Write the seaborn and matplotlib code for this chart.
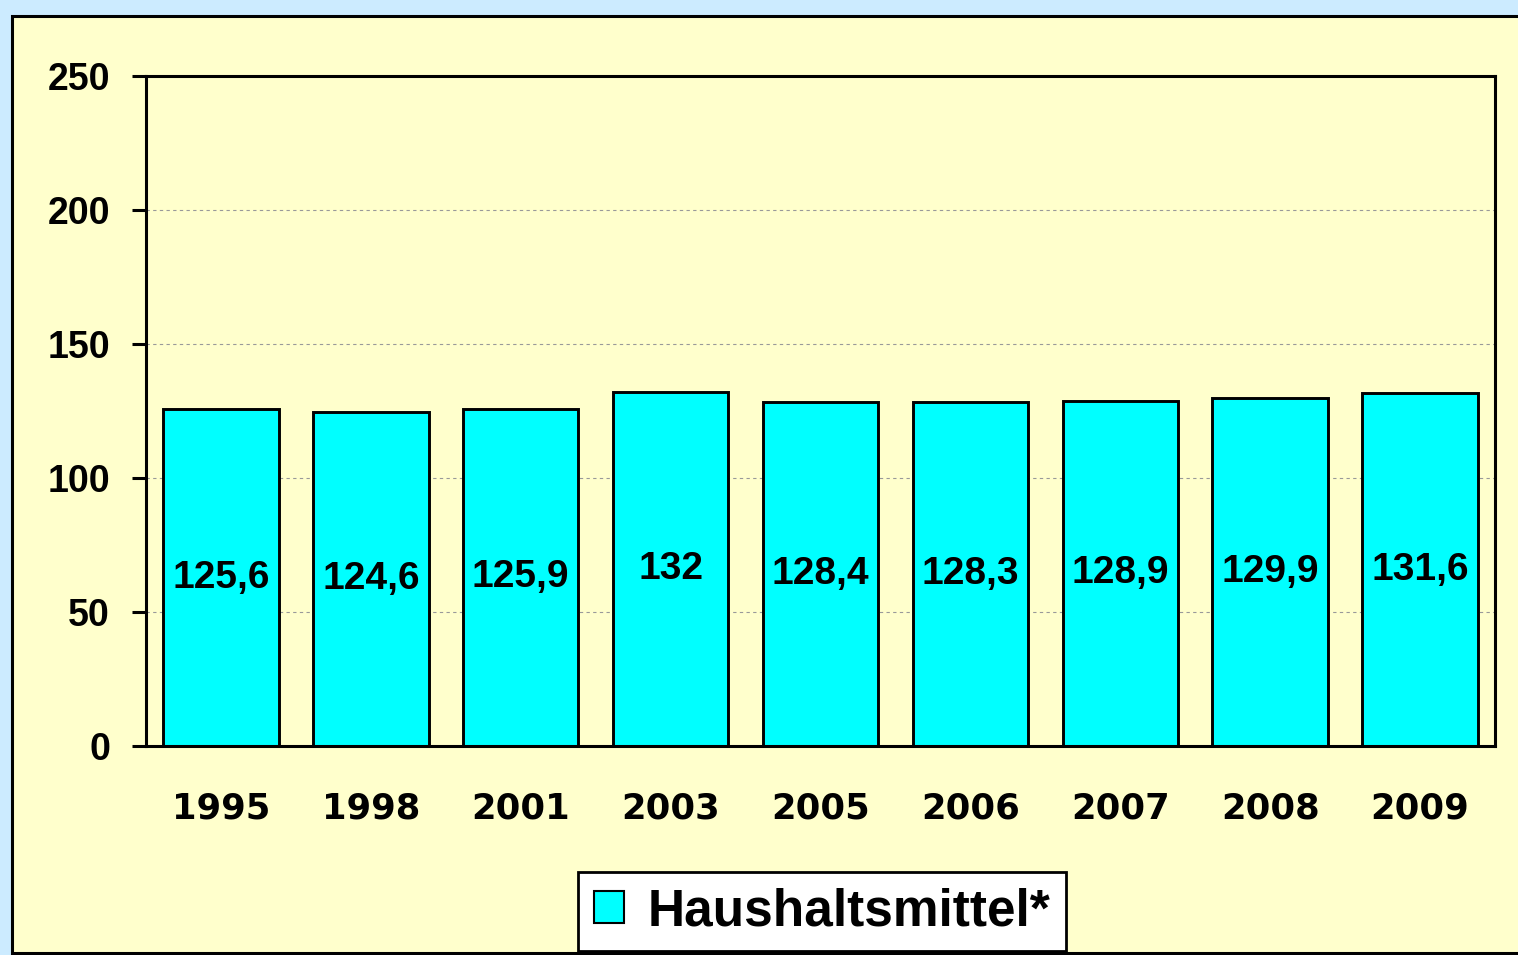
import matplotlib
matplotlib.use("Agg")
import matplotlib.pyplot as plt
from matplotlib.patches import Rectangle
import pandas as pd
import seaborn as sns

years = ["1995", "1998", "2001", "2003", "2005", "2006", "2007", "2008", "2009"]
values = [125.6, 124.6, 125.9, 132, 128.4, 128.3, 128.9, 129.9, 131.6]
series_name = "Haushaltsmittel*"
y_ticks = [0, 50, 100, 150, 200, 250]

BG_OUTER = "#CCEBFF"
BG_PANEL = "#FFFFCC"
BAR = "#00FFFF"

df = pd.DataFrame({"year": years, "value": values})

sns.set_style("white")
plt.rcParams["font.family"] = ["Liberation Sans", "DejaVu Sans"]
plt.rcParams["font.weight"] = "bold"
plt.rcParams["text.color"] = "black"
plt.rcParams["xtick.color"] = "black"
plt.rcParams["ytick.color"] = "black"

fig = plt.figure(figsize=(15.18, 9.55), dpi=100)
fig.patch.set_facecolor(BG_OUTER)
# yellow panel with black frame, behind the axes
fig.patches.append(Rectangle((12 / 1518, 1 - 953 / 955), 1.1, 937 / 955,
                             transform=fig.transFigure, facecolor=BG_PANEL,
                             edgecolor="black", linewidth=2.2, zorder=-5))

ax = fig.add_axes([146 / 1518, 1 - 746 / 955, 1349 / 1518, 670 / 955])
ax.set_facecolor(BG_PANEL)

sns.barplot(data=df, x="year", y="value", color=BAR, edgecolor="black",
            linewidth=2.1, width=0.77, saturation=1, label=series_name, ax=ax)
if ax.get_legend() is not None:
    ax.get_legend().remove()

labels = [f"{v:g}".replace(".", ",") for v in values]
ax.bar_label(ax.containers[0], labels=labels, label_type="center",
             fontsize=28, fontweight="bold", color="black")

ax.set_ylim(0, 250)
ax.set_yticks(y_ticks)
ax.set_xlim(-0.5, len(years) - 0.5)
ax.yaxis.grid(True, linestyle=(0, (3, 3)), color="#999999", linewidth=0.8)
ax.set_axisbelow(True)
ax.set_xlabel("")
ax.set_ylabel("")

for s in ax.spines.values():
    s.set_visible(True)
    s.set_color("black")
    s.set_linewidth(2.2)

ax.tick_params(axis="y", direction="out", length=10, width=2.2, pad=16,
               labelsize=27, left=True, colors="black")
ax.tick_params(axis="x", length=0, pad=33, labelsize=25.5, colors="black")
for t in ax.get_yticklabels():
    t.set_fontweight("bold")
for t in ax.get_xticklabels():
    t.set_fontweight("bold")
    t.set_fontfamily("DejaVu Sans")

leg = fig.legend(loc="center", bbox_to_anchor=(822 / 1518, 1 - 911.5 / 955),
                 prop={"weight": "bold", "size": 37},
                 frameon=True, fancybox=False, edgecolor="black",
                 facecolor="white", framealpha=1, handlelength=0.6,
                 handleheight=0.6, handletextpad=0.45, borderpad=0.3)
leg.get_frame().set_linewidth(2)
for t in leg.get_texts():
    t.set_color("black")
for h in leg.legend_handles:
    h.set_edgecolor("black")
    h.set_linewidth(1.5)

fig.savefig("out.png", dpi=100, facecolor=fig.get_facecolor())
